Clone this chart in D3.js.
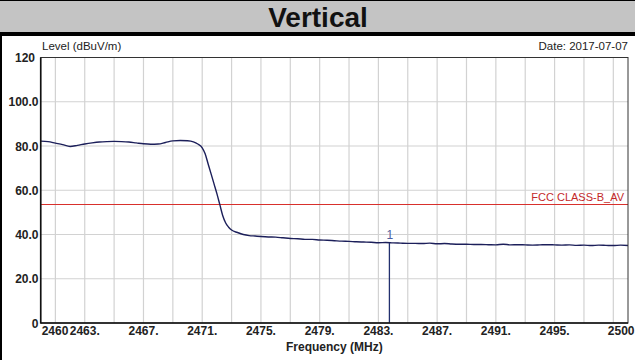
<!DOCTYPE html>
<html>
<head>
<meta charset="utf-8">
<script src="https://cdn.jsdelivr.net/npm/d3@7"></script>
<style>
html,body{margin:0;padding:0;background:#fff;}
svg{display:block;font-family:"Liberation Sans",Arial,sans-serif;}
</style>
</head>
<body>
<svg id="chart" width="635" height="360"></svg>
<script>
const titleText = "Vertical";
const yAxisTitle = "Level (dBuV/m)";
const xAxisTitle = "Frequency (MHz)";
const dateText = "Date: 2017-07-07";
const limitName = "FCC CLASS-B_AV";
const limitValue = 54;
const xDomain = [2460, 2500];
const yDomain = [0, 120];
const yTickValues = [0, 20, 40, 60, 80, 100, 120];
const yTickLabels = ["0", "20.0", "40.0", "60.0", "80.0", "100.0", "120"];
const xGridValues = [2461,2463,2465,2467,2469,2471,2473,2475,2477,2479,2481,2483,2485,2487,2489,2491,2493,2495,2497,2499];
const xTickValues = [2460,2463,2467,2471,2475,2479,2483,2487,2491,2495,2500];
const xTickLabels = ["2460","2463.","2467.","2471.","2475.","2479.","2483.","2487.","2491.","2495.","2500"];
const freqs = [2460.0,2460.5,2461.0,2461.5,2462.0,2462.5,2463.0,2463.5,2464.0,2464.5,2465.0,2465.5,2466.0,2466.5,2467.0,2467.5,2468.0,2468.5,2469.0,2469.5,2470.0,2470.4,2470.7,2471.0,2471.2,2471.4,2471.6,2471.8,2472.0,2472.2,2472.4,2472.6,2472.8,2473.0,2473.4,2473.8,2474.2,2474.6,2475.0,2475.5,2476.0,2476.5,2477.0,2477.5,2478.0,2478.5,2479.0,2479.5,2480.0,2480.5,2481.0,2481.5,2482.0,2482.5,2483.0,2483.5,2484.0,2484.5,2485.0,2485.5,2486.0,2486.5,2487.0,2487.5,2488.0,2488.5,2489.0,2489.5,2490.0,2490.5,2491.0,2491.5,2492.0,2492.5,2493.0,2493.5,2494.0,2494.5,2495.0,2495.5,2496.0,2496.5,2497.0,2497.5,2498.0,2498.5,2499.0,2499.5,2500.0];
const levels = [82.2,82.0,81.3,80.6,79.8,80.3,80.9,81.4,81.8,82.0,82.1,82.0,81.8,81.4,81.0,80.8,80.9,81.6,82.3,82.5,82.4,81.9,80.9,79.2,76.5,72.0,67.5,63.0,58.5,53.5,48.5,45.2,43.3,42.0,40.9,40.0,39.5,39.3,39.1,38.9,38.8,38.5,38.2,38.1,37.8,37.8,37.5,37.4,37.2,37.0,36.9,36.7,36.6,36.5,36.3,36.4,36.2,36.1,36.0,36.0,35.9,36.1,35.8,35.9,35.7,35.6,35.6,35.5,35.5,35.4,35.3,35.6,35.3,35.4,35.3,35.2,35.3,35.4,35.3,35.2,35.3,35.1,35.2,35.0,35.2,35.1,35.0,35.2,35.0];
const markerFreq = 2483.75;
const markerLevel = 36.2;
const markerLabel = "1";

const svg = d3.select("#chart");
const W = 635, H = 360;
const plot = {left: 40.7, right: 628, top: 57.5, bottom: 323};

// title band
svg.append("rect").attr("x",0).attr("y",0).attr("width",W).attr("height",33).attr("fill","#c4c4c4");
svg.append("rect").attr("x",0).attr("y",0).attr("width",W).attr("height",1).attr("fill","#000");
svg.append("rect").attr("x",0).attr("y",32).attr("width",W).attr("height",4).attr("fill","#000");
svg.append("rect").attr("x",0).attr("y",32).attr("width",2).attr("height",H-32).attr("fill","#000");
svg.append("text").attr("x",318).attr("y",27).attr("text-anchor","middle")
  .attr("font-size",28).attr("font-weight","bold").attr("fill","#111").text(titleText);

const x = d3.scaleLinear().domain(xDomain).range([plot.left, plot.right]);
const y = d3.scaleLinear().domain(yDomain).range([plot.bottom, plot.top]);

// grid
const g = svg.append("g");
g.selectAll(".vg").data(xGridValues).enter().append("line")
  .attr("x1",d=>x(d)).attr("x2",d=>x(d)).attr("y1",plot.top).attr("y2",plot.bottom)
  .attr("stroke","#d2d2d2").attr("stroke-width",1.2);
g.selectAll(".hg").data(yTickValues.filter(v=>v>0&&v<120)).enter().append("line")
  .attr("x1",plot.left).attr("x2",plot.right).attr("y1",d=>y(d)).attr("y2",d=>y(d))
  .attr("stroke","#d2d2d2").attr("stroke-width",1.2);

// limit line
const ly = Math.round(y(limitValue)) + 0.5;
svg.append("line").attr("x1",plot.left).attr("x2",plot.right)
  .attr("y1",ly).attr("y2",ly).attr("stroke","#d8302c").attr("stroke-width",1.2);
svg.append("text").attr("x",x(xDomain[1])-4).attr("y",ly-3.5).attr("text-anchor","end")
  .attr("font-size",11).attr("fill","#c42a2a").text(limitName);

// trace
const pts = freqs.map((f,i)=>[f, levels[i]]);
svg.append("path").datum(pts)
  .attr("d", d3.line().x(d=>x(d[0])).y(d=>y(d[1])).curve(d3.curveMonotoneX))
  .attr("fill","none").attr("stroke","#1c1f5a").attr("stroke-width",1.4);

// marker
svg.append("line").attr("x1",x(markerFreq)).attr("x2",x(markerFreq))
  .attr("y1",y(markerLevel)).attr("y2",plot.bottom).attr("stroke","#22306e").attr("stroke-width",1.3);
svg.append("text").attr("x",x(markerFreq)+0.5).attr("y",y(markerLevel)-4).attr("text-anchor","middle")
  .attr("font-size",12).attr("fill","#4e5ea0").text(markerLabel);

// frame
svg.append("rect").attr("x",plot.left).attr("y",plot.top)
  .attr("width",plot.right-plot.left).attr("height",plot.bottom-plot.top)
  .attr("fill","none").attr("stroke","#333").attr("stroke-width",1);
svg.append("line").attr("x1",plot.left).attr("x2",plot.left).attr("y1",plot.top).attr("y2",plot.bottom+0.5)
  .attr("stroke","#111").attr("stroke-width",1.6);
svg.append("line").attr("x1",plot.left).attr("x2",plot.right).attr("y1",plot.bottom).attr("y2",plot.bottom)
  .attr("stroke","#111").attr("stroke-width",1.6);

// y tick labels
svg.selectAll(".yl").data(yTickValues).enter().append("text")
  .attr("x",(d,i)=> d===120 ? 35 : 38.5).attr("y",d=>y(d)+4.5).attr("text-anchor","end")
  .attr("font-size",12).attr("font-weight","bold").attr("fill","#222")
  .text((d,i)=>yTickLabels[i]);

// x tick labels
const nX = xTickValues.length;
svg.selectAll(".xl").data(xTickValues).enter().append("text")
  .attr("x",(d,i)=> i===0 ? x(d)+1 : (i===nX-1 ? W-0.5 : x(d)))
  .attr("y",335).attr("text-anchor",(d,i)=> i===0 ? "start" : (i===nX-1 ? "end" : "middle"))
  .attr("font-size",12).attr("font-weight","bold").attr("fill","#222")
  .text((d,i)=>xTickLabels[i]);

// axis titles
svg.append("text").attr("x",(plot.left+plot.right)/2).attr("y",351).attr("text-anchor","middle")
  .attr("font-size",12).attr("font-weight","bold").attr("fill","#222").text(xAxisTitle);
svg.append("text").attr("x",42).attr("y",50).attr("font-size",11.5).attr("fill","#222").text(yAxisTitle);
svg.append("text").attr("x",628).attr("y",50).attr("text-anchor","end").attr("font-size",11.5).attr("fill","#222").text(dateText);
</script>
</body>
</html>
